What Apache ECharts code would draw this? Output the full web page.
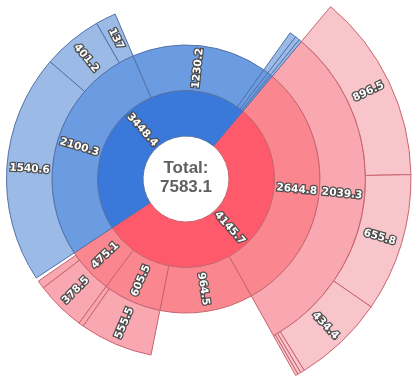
<!DOCTYPE html>
<html>
<head>
<meta charset="utf-8">
<script src="https://cdn.jsdelivr.net/npm/echarts@6/dist/echarts.min.js"></script>
<style>
  html, body { margin: 0; padding: 0; background: #ffffff; }
  #chart { width: 418px; height: 378px; }
</style>
</head>
<body>
<div id="chart"></div>
<script>
// ---- data ----
const centerTitle = 'Total:';
const centerTotal = 7583.1;

// level 1 (inner ring): red group, blue group
const level1Values = [4145.7, 3448.4];

// level 2
const redLevel2 = [2644.8, 964.5, 605.5, 475.1];
const blueLevel2 = [2100.3, 1230.2, 46, 30, 19];   // last three: thin unlabeled slices

// level 3
const red2644Level3 = [2039.3];
const red605Level3 = [555.5, 38];                   // thin unlabeled slice at end
const red475Level3 = [378.5, 62];                   // thin unlabeled slice at end
const red475Unfilled = 28;                          // empty gap after children
const blue2100Level3 = [1540.6, 401.2, 137];
const blueThinLevel3 = [46, 30, 19];                // outer parts of the thin blue slices

// level 4
const red2039Level4 = [896.5, 655.8, 434.4, 19, 15, 12];

// ---- styling ----
const palette = {
  red:  ['#fe5a6b', '#fa878f', '#f9a7b0', '#f8c5cb'],
  blue: ['#3a78d9', '#6b9be1', '#9bbae5']
};
const borders = { red: '#c8656f', blue: '#5373ab' };
const labelMin = 100;

function N(v, kids, gap) { return { v: v, kids: kids || null, gap: gap || 0 }; }

// tree of raw values
const redTree = N(level1Values[0], [
  N(redLevel2[0], red2644Level3.map((v, i) => i === 0 ? N(v, red2039Level4.map(w => N(w))) : N(v))),
  N(redLevel2[1]),
  N(redLevel2[2], red605Level3.map(v => N(v))),
  N(redLevel2[3], red475Level3.map(v => N(v)), red475Unfilled)
]);
const blueTree = N(level1Values[1], blueLevel2.map((v, i) => {
  if (i === 0) return N(v, blue2100Level3.map(w => N(w)));
  if (i >= 2) return N(v, [N(blueThinLevel3[i - 2])]);
  return N(v);
}));

// children share the parent's arc in proportion to their values
function toItem(n, layoutValue, family, depth) {
  const item = {
    name: n.v >= labelMin ? String(n.v) : '',
    value: layoutValue,
    itemStyle: { color: palette[family][depth], borderColor: borders[family], borderWidth: 1 },
    label: { show: n.v >= labelMin }
  };
  if (n.kids) {
    const s = n.kids.reduce((a, k) => a + k.v, 0) + n.gap;
    item.children = n.kids.map(k => toItem(k, layoutValue * k.v / s, family, depth + 1));
    if (n.gap) {
      item.children.push({
        name: '', value: layoutValue * n.gap / s,
        itemStyle: { color: 'rgba(0,0,0,0)', borderWidth: 0 },
        label: { show: false }
      });
    }
  }
  return item;
}

const data = [
  toItem(redTree, redTree.v, 'red', 0),
  toItem(blueTree, blueTree.v, 'blue', 0)
];

const chart = echarts.init(document.getElementById('chart'), null, { renderer: 'canvas' });
chart.setOption({
  animation: false,
  backgroundColor: '#ffffff',
  graphic: [{
    type: 'text',
    x: 186, y: 178,
    z: 100,
    silent: true,
    style: {
      text: centerTitle + '\n' + centerTotal.toFixed(1),
      align: 'center',
      verticalAlign: 'middle',
      textAlign: 'center',
      textVerticalAlign: 'middle',
      fill: '#606060',
      font: 'bold 17px "Liberation Sans", Arial, sans-serif',
      lineHeight: 19
    }
  }],
  series: [{
    type: 'sunburst',
    center: [186, 179],
    radius: [43, 225],
    startAngle: 50,
    clockwise: true,
    sort: null,
    nodeClick: false,
    emphasis: { focus: 'none' },
    label: {
      rotate: 'radial',
      color: '#ffffff',
      fontWeight: 'bold',
      fontSize: 10.5,
      fontFamily: 'DejaVu Sans',
      textBorderColor: '#4d4d4d',
      textBorderWidth: 2.5
    },
    itemStyle: { borderWidth: 1 },
    data: data
  }]
});
</script>
</body>
</html>
